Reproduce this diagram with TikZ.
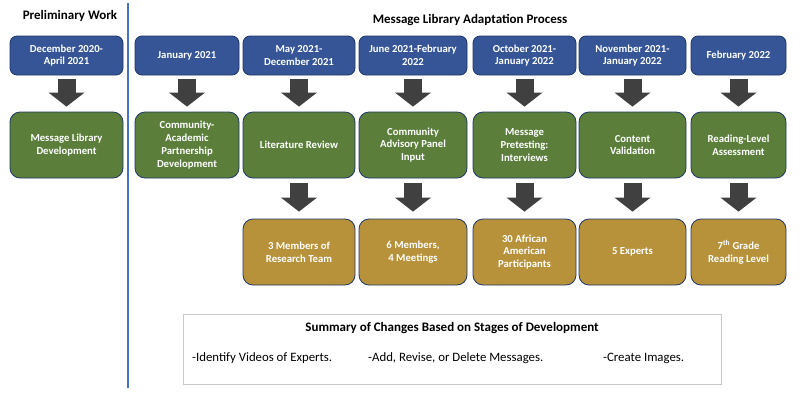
\documentclass[tikz,border=0pt]{standalone}
\usepackage{fontspec}
\setmainfont{Carlito}
\usetikzlibrary{arrows.meta}

\definecolor{dateblue}{HTML}{355597}
\definecolor{stagegreen}{HTML}{5B7F3B}
\definecolor{resultgold}{HTML}{B8923A}
\definecolor{boxedge}{HTML}{1F3768}
\definecolor{arrowgray}{HTML}{404040}
\definecolor{sepblue}{HTML}{4472C4}
\definecolor{summaryedge}{HTML}{C9C9C9}

\tikzset{
  box/.style={draw=boxedge, line width=0.8pt, text=white, align=center, inner sep=2pt,
    font=\bfseries\fontsize{10.7}{12.8}\selectfont},
  datebox/.style={box, fill=dateblue, rounded corners=7pt, minimum height=39pt},
  stagebox/.style={box, fill=stagegreen, rounded corners=10pt, minimum height=66pt},
  resultbox/.style={box, fill=resultgold, rounded corners=10pt, minimum height=66pt},
  blockarr/.style={draw=arrowgray, line width=18pt,
    -{Triangle[width=36pt, length=14pt, line width=0pt]}},
  heading/.style={font=\bfseries\fontsize{13}{15}\selectfont},
  item/.style={anchor=west, inner sep=0pt, font=\fontsize{12.8}{15}\selectfont}
}

\begin{document}
\begin{tikzpicture}[x=1pt, y=-1pt]
            \useasboundingbox (0,0) rectangle (800,410);

            % Headings and divider
            \node[heading] (prelim) at (70,16) {Preliminary Work};
            \node[heading] (adapt) at (470,20) {Message Library Adaptation Process};
            \draw[sepblue, line width=2.5pt] (128,3) -- (128,388);

            % Dates
            \node[datebox, minimum width=113pt] (d1) at (66.5,55.5) {December 2020-\\April 2021};
            \node[datebox, minimum width=104pt] (d2) at (187,55.5) {January 2021};
            \node[datebox, minimum width=112pt] (d3) at (299,55.5) {May 2021-\\December 2021};
            \node[datebox, minimum width=108pt] (d4) at (413,55.5) {June 2021-February\\2022};
            \node[datebox, minimum width=103pt] (d5) at (524.5,55.5) {October 2021-\\January 2022};
            \node[datebox, minimum width=107pt] (d6) at (632.5,55.5) {November 2021-\\January 2022};
            \node[datebox, minimum width=95pt] (d7) at (738.5,55.5) {February 2022};

            % Stages
            \node[stagebox, minimum width=113pt] (s1) at (66.5,145) {Message Library\\Development};
            \node[stagebox, minimum width=104pt] (s2) at (187,145) {Community-\\Academic\\Partnership\\Development};
            \node[stagebox, minimum width=112pt] (s3) at (299,145) {Literature Review};
            \node[stagebox, minimum width=108pt] (s4) at (413,145) {Community\\Advisory Panel\\Input};
            \node[stagebox, minimum width=103pt] (s5) at (524.5,145) {Message\\Pretesting:\\Interviews};
            \node[stagebox, minimum width=107pt] (s6) at (632.5,145) {Content\\Validation};
            \node[stagebox, minimum width=95pt] (s7) at (738.5,145) {Reading-Level\\Assessment};

            % Results
            \node[resultbox, minimum width=112pt] (r3) at (299,252) {3 Members of\\Research Team};
            \node[resultbox, minimum width=108pt] (r4) at (413,252) {6 Members,\\4 Meetings};
            \node[resultbox, minimum width=103pt] (r5) at (524.5,252) {30 African\\American\\Participants};
            \node[resultbox, minimum width=107pt] (r6) at (632.5,252) {5 Experts};
            \node[resultbox, minimum width=95pt] (r7) at (738.5,252) {7\textsuperscript{th} Grade\\Reading Level};

            % Arrows
            \foreach \i in {1,...,7}
                \draw[blockarr, shorten <=4pt, shorten >=5pt] (d\i) -- (s\i);
            \foreach \i in {3,...,7}
                \draw[blockarr, shorten <=5pt, shorten >=7pt] (s\i) -- (r\i);

            % Summary
            \node[draw=summaryedge, line width=0.8pt, minimum width=538pt, minimum height=70pt] (summary) at (452,349) {};
            \node[font=\bfseries\fontsize{13}{15}\selectfont] (sumtitle) at (452,328) {Summary of Changes Based on Stages of Development};
            \node[item] (videos) at (192,358) {-Identify Videos of Experts.};
            \node[item] (messages) at (368,358) {-Add, Revise, or Delete Messages.};
            \node[item] (images) at (603,358) {-Create Images.};
\end{tikzpicture}
\end{document}
